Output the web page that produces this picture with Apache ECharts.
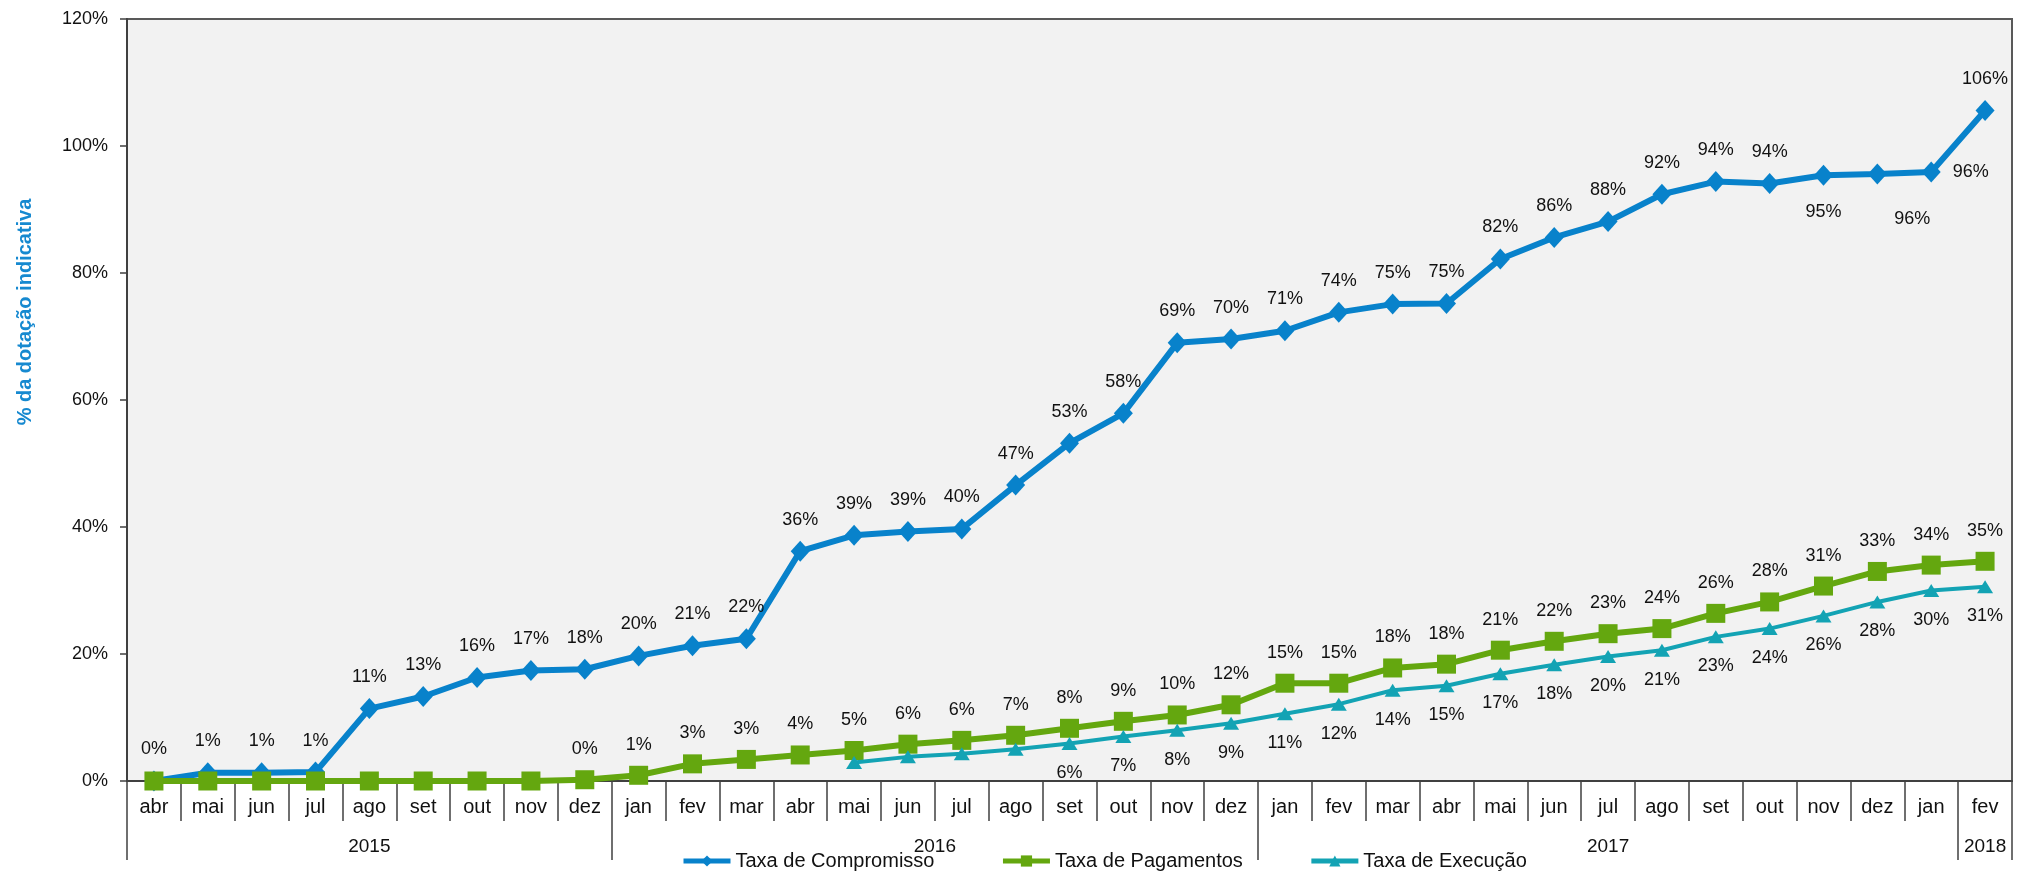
<!DOCTYPE html>
<html><head><meta charset="utf-8">
<script src="https://cdn.jsdelivr.net/npm/echarts@6/dist/echarts.min.js"></script>
<style>html,body{margin:0;padding:0;background:#fff}#c{width:2033px;height:873px}</style>
</head><body><div id="c"></div>
<script>
// ---- data ----
const months = ['abr','mai','jun','jul','ago','set','out','nov','dez',
  'jan','fev','mar','abr','mai','jun','jul','ago','set','out','nov','dez',
  'jan','fev','mar','abr','mai','jun','jul','ago','set','out','nov','dez','jan',
  'fev'];
const years = ['2015','2016','2017','2018'];
const yearSpans = [9, 12, 13, 1];
const yTickValues = [0, 20, 40, 60, 80, 100, 120];
const seriesNames = ['Taxa de Compromisso','Taxa de Pagamentos','Taxa de Execução'];
const compromisso = [0, 1.3, 1.3, 1.4, 11.4, 13.3, 16.3, 17.4, 17.6,
  19.7, 21.3, 22.4, 36.2, 38.7, 39.3, 39.7, 46.6, 53.2, 57.9, 69.0, 69.6,
  70.9, 73.8, 75.1, 75.2, 82.2, 85.6, 88.1, 92.4, 94.4, 94.1, 95.4, 95.6, 95.9,
  105.6];
const pagamentos = [0, 0, 0, 0, 0, 0, 0, 0, 0.2,
  0.9, 2.7, 3.4, 4.1, 4.8, 5.8, 6.4, 7.2, 8.3, 9.4, 10.4, 12.0,
  15.4, 15.4, 17.8, 18.4, 20.6, 22.0, 23.2, 24.0, 26.4, 28.2, 30.7, 33.0, 34.0,
  34.6];
const execucao = [null, null, null, null, null, null, null, null, null,
  null, null, null, null, 2.9, 3.8, 4.3, 5.0, 5.9, 7.0, 8.0, 9.1,
  10.6, 12.1, 14.3, 15.0, 16.9, 18.3, 19.6, 20.6, 22.7, 24.0, 26.0, 28.2, 30.0,
  30.6];

// ---- derived helpers ----
const bounds = [0];
yearSpans.forEach(s => bounds.push(bounds[bounds.length - 1] + s));
const yearMids = yearSpans.map((s, i) => bounds[i] + s / 2);
const pct = v => Math.round(v) + '%';

const BLUE = '#0882cb', GREEN = '#64a70f', TEAL = '#13a3b4';
const FONT = 'Liberation Sans, Arial, sans-serif';

const compData = compromisso.map((v, i) => {
  if (i === 31) return { value: v, label: { position: 'bottom', distance: 17 } };
  if (i === 32) return { value: v, label: { position: 'bottom', distance: 17, offset: [35, 9] } };
  if (i === 33) return { value: v, label: { position: 'right', distance: 12 } };
  return v;
});
const pagData = pagamentos.map((v, i) => i < 8 ? { value: v, label: { show: false } } : v);
const exeData = execucao.map((v, i) => (v !== null && i < 17) ? { value: v, label: { show: false } } : v);

const chart = echarts.init(document.getElementById('c'), null, { renderer: 'canvas' });
chart.setOption({
  animation: false,
  backgroundColor: '#ffffff',
  textStyle: { fontFamily: FONT },
  grid: { left: 127, right: 21, top: 19, bottom: 92, show: true,
    backgroundColor: '#f2f2f2', borderColor: '#595959', borderWidth: 2 },
  legend: {
    data: seriesNames, left: 676, top: 846, itemWidth: 47, itemHeight: 14, itemGap: 66,
    lineStyle: { width: 5 },
    textStyle: { fontSize: 20, color: '#111', fontFamily: FONT }
  },
  xAxis: [{
    type: 'category', data: months, boundaryGap: true, position: 'bottom',
    axisLine: { show: true, lineStyle: { color: '#404040', width: 2 } },
    axisTick: { show: true, interval: 0, length: 40, lineStyle: { color: '#404040', width: 1.5 } },
    axisLabel: { interval: 0, fontSize: 20, color: '#111', margin: 16, fontFamily: FONT },
    splitLine: { show: false }
  }, {
    type: 'value', min: 0, max: bounds[bounds.length - 1], position: 'bottom',
    axisLine: { show: false },
    axisTick: { show: true, customValues: bounds, length: 79, lineStyle: { color: '#404040', width: 1.5 } },
    axisLabel: { show: true, customValues: yearMids, fontSize: 19, color: '#111', margin: 56,
      fontFamily: FONT,
      formatter: v => { const k = yearMids.findIndex(m => Math.abs(m - v) < 1e-6); return k >= 0 ? years[k] : ''; } },
    splitLine: { show: false }
  }],
  yAxis: {
    type: 'value', min: yTickValues[0], max: yTickValues[yTickValues.length - 1], interval: 20,
    axisLine: { show: true, lineStyle: { color: '#404040', width: 2 } },
    axisTick: { show: true, length: 7, lineStyle: { color: '#404040', width: 1.5 } },
    axisLabel: { formatter: '{value}%', fontSize: 18, color: '#111', margin: 19, fontFamily: FONT },
    splitLine: { show: false },
    name: '% da dotação indicativa', nameLocation: 'middle', nameGap: 92, nameRotate: 90,
    nameTextStyle: { fontSize: 20, fontWeight: 'bold', color: '#1689d0', fontFamily: FONT,
      padding: [0, 0, 0, 176] }
  },
  series: [{
    name: seriesNames[0], type: 'line', data: compData, xAxisIndex: 0,
    symbol: 'diamond', symbolSize: [19, 21],
    lineStyle: { color: BLUE, width: 6 }, itemStyle: { color: BLUE },
    label: { show: true, position: 'top', distance: 12, formatter: p => pct(p.value),
      fontSize: 18, color: '#111', fontFamily: FONT },
    z: 2
  }, {
    name: seriesNames[1], type: 'line', data: pagData, xAxisIndex: 0,
    symbol: 'rect', symbolSize: 19,
    lineStyle: { color: GREEN, width: 6 }, itemStyle: { color: GREEN },
    label: { show: true, position: 'top', distance: 12, formatter: p => pct(p.value),
      fontSize: 18, color: '#111', fontFamily: FONT },
    z: 3
  }, {
    name: seriesNames[2], type: 'line', data: exeData, xAxisIndex: 0,
    symbol: 'triangle', symbolSize: [16, 13], connectNulls: false,
    lineStyle: { color: TEAL, width: 4 }, itemStyle: { color: TEAL },
    label: { show: true, position: 'bottom', distance: 14, formatter: p => pct(p.value),
      fontSize: 18, color: '#111', fontFamily: FONT },
    z: 4
  }]
});
</script>
</body></html>
